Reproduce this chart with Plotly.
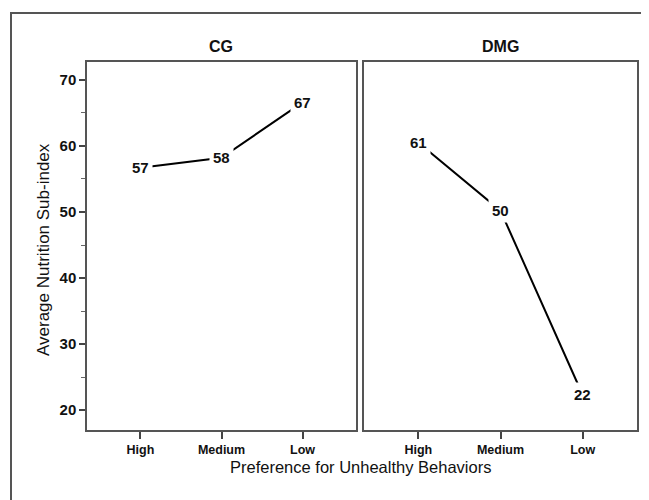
import plotly.graph_objects as go

categories = ["High", "Medium", "Low"]
cg_values = [56.7, 58.2, 66.6]
cg_labels = ["57", "58", "67"]
dmg_values = [60.5, 50.2, 22.3]
dmg_labels = ["61", "50", "22"]
y_ticks = [20, 30, 40, 50, 60, 70]

W, H = 649, 500
OFF = 8  # default body margin of the page
FONT = "Liberation Sans, Arial, sans-serif"


def px(x):
    return (x - OFF) / W


def py(y):
    return 1 - (y - OFF) / H


fig = go.Figure()
xs = list(range(len(categories)))
fig.add_trace(go.Scatter(x=xs, y=cg_values, mode="lines", line=dict(color="black", width=2),
                         xaxis="x", yaxis="y", hoverinfo="skip"))
fig.add_trace(go.Scatter(x=xs, y=dmg_values, mode="lines", line=dict(color="black", width=2),
                         xaxis="x2", yaxis="y2", hoverinfo="skip"))

annotations = []
for xi, v, t in zip(xs, cg_values, cg_labels):
    annotations.append(dict(x=xi, y=v, xref="x", yref="y", text="<b>%s</b>" % t, showarrow=False,
                            xanchor="center", yanchor="middle",
                            bgcolor="white", borderpad=3, font=dict(family=FONT, size=15, color="#111")))
for xi, v, t in zip(xs, dmg_values, dmg_labels):
    annotations.append(dict(x=xi, y=v, xref="x2", yref="y2", text="<b>%s</b>" % t, showarrow=False,
                            xanchor="center", yanchor="middle",
                            bgcolor="white", borderpad=3, font=dict(family=FONT, size=15, color="#111")))

xd1 = [px(87), px(356)]
xd2 = [px(364), px(637)]
yd = [py(430), py(62)]

annotations += [
    dict(x=sum(xd1) / 2, y=py(47), xref="paper", yref="paper", text="<b>CG</b>", showarrow=False,
         xanchor="center", yanchor="middle", font=dict(family=FONT, size=16, color="#111")),
    dict(x=sum(xd2) / 2, y=py(47), xref="paper", yref="paper", text="<b>DMG</b>", showarrow=False,
         xanchor="center", yanchor="middle", font=dict(family=FONT, size=16, color="#111")),
    dict(x=px(43), y=py(250), xref="paper", yref="paper", text="Average Nutrition Sub-index",
         textangle=-90, showarrow=False, xanchor="center", yanchor="middle",
         font=dict(family=FONT, size=17, color="#111")),
    dict(x=px(360), y=py(467), xref="paper", yref="paper", text="Preference for Unhealthy Behaviors",
         showarrow=False, xanchor="center", yanchor="middle", font=dict(family=FONT, size=16.5, color="#111")),
]

xaxis_common = dict(range=[-0.66, 2.66], tickmode="array", tickvals=xs, ticktext=["<b>%s</b>" % c for c in categories],
                    ticks="outside", ticklen=7, tickwidth=1.5, tickcolor="#444",
                    showline=True, linecolor="#555", linewidth=1.5, mirror=True,
                    showgrid=False, zeroline=False,
                    tickfont=dict(family=FONT, size=12.5, color="#111"), fixedrange=True)
yrange = [17.0, 72.7]

fig.update_layout(
    width=W, height=H, autosize=False,
    margin=dict(l=0, r=0, t=0, b=0),
    paper_bgcolor="white", plot_bgcolor="white",
    showlegend=False,
    xaxis=dict(domain=xd1, anchor="y", **xaxis_common),
    xaxis2=dict(domain=xd2, anchor="y2", **xaxis_common),
    yaxis=dict(domain=yd, anchor="x", range=yrange, tickmode="array", tickvals=y_ticks,
               ticktext=["<b>%d</b>" % v for v in y_ticks],
               ticks="outside", ticklen=6, tickwidth=1.5, tickcolor="#444",
               minor=dict(dtick=5, tick0=0, ticks="outside", ticklen=4, tickcolor="#666", tickwidth=1),
               showline=True, linecolor="#555", linewidth=1.5, mirror=True,
               showgrid=False, zeroline=False,
               tickfont=dict(family=FONT, size=15, color="#111"), fixedrange=True),
    yaxis2=dict(domain=yd, anchor="x2", range=yrange, showticklabels=False, ticks="",
                showline=True, linecolor="#555", linewidth=1.5, mirror=True,
                showgrid=False, zeroline=False, fixedrange=True),
    annotations=annotations,
    shapes=[
        dict(type="rect", xref="paper", yref="paper", x0=px(11), x1=1.05, y0=-0.05, y1=py(13),
             line=dict(color="#555", width=2), fillcolor="rgba(0,0,0,0)", layer="below"),
    ],
)

fig.write_html("out.html")
